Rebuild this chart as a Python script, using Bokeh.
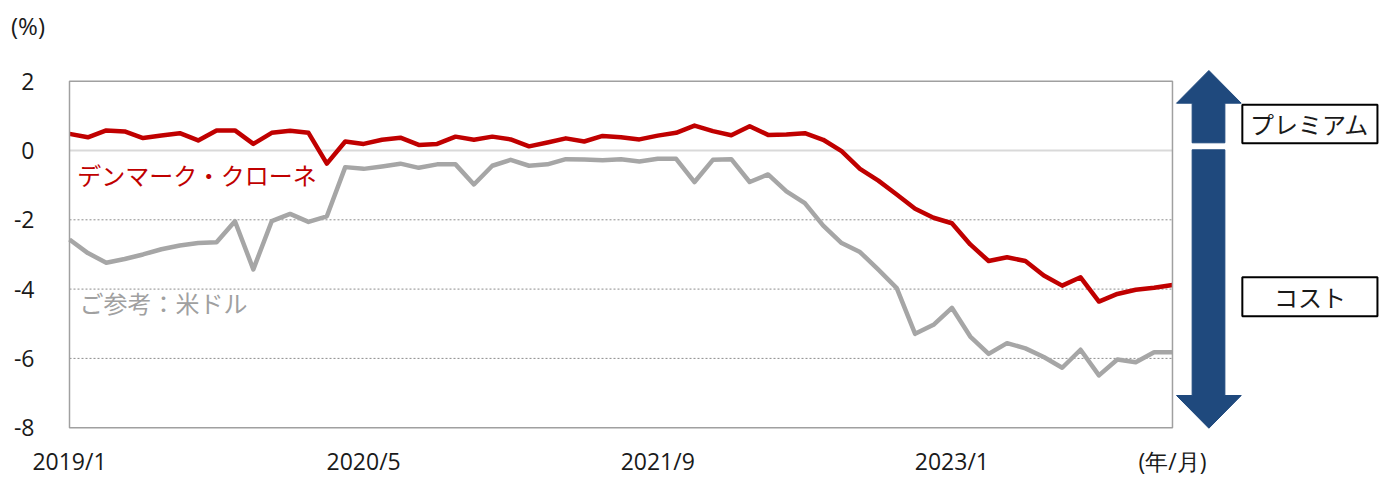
from bokeh.plotting import figure
from bokeh.models import Range1d, FixedTicker, LinearAxis
from bokeh.core.properties import value
from bokeh.embed import file_html
from bokeh.resources import INLINE

# ---- data -------------------------------------------------------------
months = [f"{2019 + (i // 12)}/{i % 12 + 1}" for i in range(61)]

dkk = [0.48, 0.38, 0.58, 0.55, 0.36, 0.43, 0.50, 0.29, 0.58, 0.58,
       0.19, 0.51, 0.57, 0.51, -0.38, 0.26, 0.19, 0.31, 0.37, 0.16,
       0.19, 0.40, 0.31, 0.40, 0.32, 0.12, 0.23, 0.35, 0.26, 0.42,
       0.38, 0.32, 0.43, 0.51, 0.72, 0.56, 0.44, 0.70, 0.45, 0.46,
       0.50, 0.31, -0.02, -0.53, -0.87, -1.27, -1.68, -1.94, -2.10, -2.71,
       -3.19, -3.08, -3.19, -3.61, -3.90, -3.66, -4.36, -4.14, -4.02, -3.96,
       -3.88]

usd = [-2.57, -2.96, -3.24, -3.13, -3.00, -2.85, -2.74, -2.67, -2.65, -2.04,
       -3.43, -2.04, -1.83, -2.06, -1.90, -0.48, -0.53, -0.46, -0.38, -0.50,
       -0.40, -0.40, -0.98, -0.44, -0.27, -0.44, -0.40, -0.25, -0.26, -0.28,
       -0.25, -0.32, -0.24, -0.24, -0.91, -0.27, -0.25, -0.91, -0.69, -1.18,
       -1.52, -2.17, -2.67, -2.93, -3.44, -3.97, -5.29, -5.03, -4.54, -5.37,
       -5.87, -5.56, -5.71, -5.96, -6.27, -5.75, -6.49, -6.03, -6.11, -5.82,
       -5.82]

series_names = ["デンマーク・クローネ", "ご参考：米ドル"]
y_ticks = [2, 0, -2, -4, -6, -8]
x_label_idx = [0, 16, 32, 48]
y_unit = "(%)"
x_unit = "(年/月)"
premium_text = "プレミアム"
cost_text = "コスト"

RED = "#c00000"
GRAY = "#a6a6a6"
NAVY = "#1f497d"
JP = "Noto Sans CJK JP"
LAT = "Open Sans"
INK = "#1a1a1a"

x = list(range(len(months)))
last = len(months) - 1
ytop, ybot = max(y_ticks), min(y_ticks)

# canvas geometry (px): plot box left edge, zero line, px per month / per point
W, H = 1385, 477
X0_PX, Y0_PX = 69.0, 150.0
PX_X, PX_Y = 18.383, 34.65

p = figure(width=W, height=H, output_backend="svg", toolbar_location=None,
           title=None,
           x_range=Range1d(-X0_PX / PX_X, (W - X0_PX) / PX_X),
           y_range=Range1d((Y0_PX - H) / PX_Y, Y0_PX / PX_Y),
           min_border_left=0, min_border_right=0, min_border_top=0,
           min_border_bottom=0, x_axis_location=None, y_axis_location=None)
p.background_fill_color = "white"
p.border_fill_color = "white"
p.outline_line_color = None
p.xgrid.visible = False
p.ygrid.visible = False


def style(ax):
    ax.axis_line_color = None
    ax.major_tick_line_color = None
    ax.minor_tick_line_color = None
    ax.major_label_text_font = LAT
    ax.major_label_text_font_size = "23px"
    ax.major_label_text_color = INK


# y axis pinned to the left edge of the plot box
ya = LinearAxis(fixed_location=0, ticker=FixedTicker(ticks=y_ticks),
                major_label_overrides={t: str(t) for t in y_ticks},
                major_label_standoff=29)
style(ya)
p.add_layout(ya, "left")

# x axis pinned to the bottom of the plot box
xt = x_label_idx + [last]
xo = {i: months[i] for i in x_label_idx}
xo[last] = x_unit
xa = LinearAxis(fixed_location=ybot, ticker=FixedTicker(ticks=xt),
                major_label_overrides=xo, major_label_standoff=11)
style(xa)
p.add_layout(xa, "below")

# grid lines (limited to the plot box)
inner = [t for t in y_ticks if t not in (0, ytop, ybot)]
p.segment(x0=[0] * len(inner), x1=[last] * len(inner), y0=inner, y1=inner,
          line_color="#8c8c8c", line_width=1, line_dash="2 2")
p.segment(x0=[0], x1=[last], y0=[0], y1=[0], line_color="#d9d9d9", line_width=2)

# series
p.line(x, usd, line_color=GRAY, line_width=4.5, line_join="round")
p.line(x, dkk, line_color=RED, line_width=4.5, line_join="round")

# plot box
p.quad(left=[0], right=[last], top=[ytop], bottom=[ybot], fill_color=None,
       line_color="#a0a0a0", line_width=1.5)

# unit of the y axis
p.text(x=[-2.257], y=[3.62], text=[y_unit], text_font=value(LAT),
       text_font_size="24px", text_color=INK, text_align="center",
       text_baseline="middle")

# series labels
p.text(x=[0.42], y=[-0.69], text=[series_names[0]], text_color=RED,
       text_font=value(JP), text_font_size="24px", text_baseline="middle")
p.text(x=[0.54], y=[-4.39], text=[series_names[1]], text_color="#a0a0a0",
       text_font=value(JP), text_font_size="24px", text_baseline="middle")

# premium / cost arrows (decoration)
hx0, sx0, cx, sx1, hx1 = 60.22, 61.07, 61.98, 62.85, 63.74
p.patches(xs=[[cx, hx1, sx1, sx1, sx0, sx0, hx0],
              [cx, hx1, sx1, sx1, sx0, sx0, hx0]],
          ys=[[2.309, 1.365, 1.365, 0.222, 0.222, 1.365, 1.365],
              [-8.015, -7.071, -7.071, 0.020, 0.020, -7.071, -7.071]],
          fill_color=NAVY, line_color=NAVY, line_width=1)

bx0, bx1 = 63.80, 71.15
p.quad(left=[bx0, bx0], right=[bx1, bx1], top=[1.319, -3.657],
       bottom=[0.211, -4.782], fill_color="white", line_color="black",
       line_width=2)
p.text(x=[(bx0 + bx1) / 2] * 2, y=[0.765, -4.21], text=[premium_text, cost_text],
       text_color=INK, text_font=value(JP), text_font_size="24px",
       text_align="center", text_baseline="middle")

open("out.html", "w").write(file_html(p, INLINE))
